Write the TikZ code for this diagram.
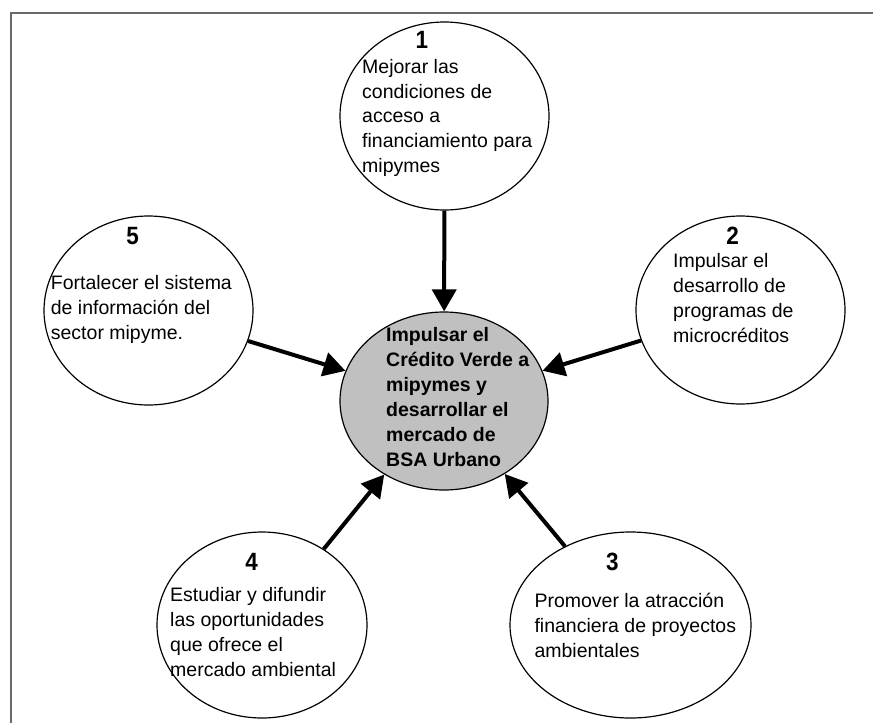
\documentclass[tikz,border=0pt]{standalone}
\usepackage{fontspec}
\setmainfont{Liberation Sans}
\newfontfamily\numfont[FakeStretch=0.9]{Liberation Sans}
\usetikzlibrary{shapes.geometric,arrows.meta}
\definecolor{coregray}{RGB}{192,192,192}
\definecolor{framegray}{RGB}{105,105,105}
\tikzset{
  goal/.style={draw, ellipse, fill=white, line width=1.2pt, inner sep=0pt},
  numlbl/.style={anchor=base, inner sep=0pt, font=\numfont\bfseries\fontsize{25}{25}\selectfont},
  txtlbl/.style={anchor=base west, align=left, inner sep=0pt, font=\fontsize{19.5}{24.8}\selectfont},
  push/.style={line width=4pt, -{Triangle[length=22pt,width=24pt]}}
}
\begin{document}
\begin{tikzpicture}[x=1pt,y=-1pt]
\useasboundingbox (0,0) rectangle (873,723);
% frame
\draw[framegray, line width=2pt] (11,723) -- (11,13) -- (873,13);
% objectives
\node[goal, minimum width=209pt, minimum height=188pt] (obj1) at (444.5,116) {};
\node[goal, minimum width=209pt, minimum height=188pt] (obj2) at (740.5,310) {};
\node[goal, minimum width=241pt, minimum height=186pt] (obj3) at (630.5,625) {};
\node[goal, minimum width=210pt, minimum height=186pt] (obj4) at (262,625) {};
\node[goal, minimum width=209pt, minimum height=189pt] (obj5) at (148.5,310.5) {};
\node[goal, fill=coregray, minimum width=208pt, minimum height=178pt] (core) at (444,401) {};
% numbers
\foreach \i/\x/\y in {1/422/48, 2/732.7/244, 3/612.3/570.5, 4/251.7/570.5, 5/132.7/244}
  \node[numlbl] (num\i) at (\x,\y) {\i};
% texts (placed at the baseline of their last line)
\node[txtlbl] (txt1) at (362,172.5) {Mejorar las\\condiciones de\\acceso a\\financiamiento para\\mipymes};
\node[txtlbl] (txt2) at (673,342) {Impulsar el\\desarrollo de\\programas de\\microcréditos};
\node[txtlbl] (txt3) at (534.3,657) {Promover la atracción\\financiera de proyectos\\ambientales};
\node[txtlbl] (txt4) at (170,676) {Estudiar y difundir\\las oportunidades\\que ofrece el\\mercado ambiental};
\node[txtlbl] (txt5) at (50.7,339.5) {Fortalecer el sistema\\de información del\\sector mipyme.};
\node[txtlbl, font=\bfseries\fontsize{19.5}{24.9}\selectfont] (coretxt) at (386,466) {Impulsar el\\Crédito Verde a\\mipymes y\\desarrollar el\\mercado de\\BSA Urbano};
% arrows
\foreach \i in {1,...,5}
  \draw[push] (obj\i) -- (core);
\end{tikzpicture}
\end{document}
